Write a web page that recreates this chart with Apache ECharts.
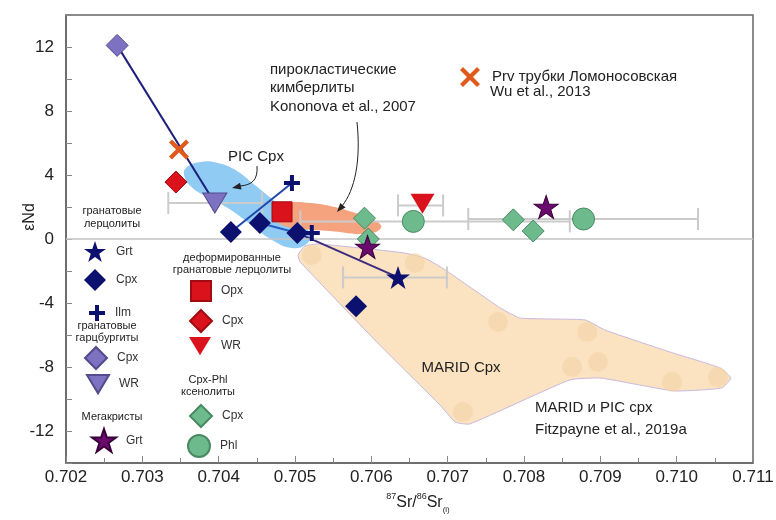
<!DOCTYPE html>
<html>
<head>
<meta charset="utf-8">
<title>Sr-Nd</title>
<script src="https://cdn.jsdelivr.net/npm/echarts@6/dist/echarts.min.js"></script>
<style>
  html, body { margin: 0; padding: 0; background: #fff; }
  #chart { width: 776px; height: 520px; }
</style>
</head>
<body>
<div id="chart"></div>
<script>
// axis ranges
var xMin = 0.702, xMax = 0.711, xStep = 0.001;
var yMin = -14, yMax = 14, yStep = 2;
var bulkSr = 0.7045;

// garnet lherzolites
var lhzGrt = [[0.70635, -2.4]];
var lhzCpx = [[0.70416, 0.44], [0.70454, 1.0], [0.70503, 0.38], [0.70580, -4.2]];
var lhzIlm = [[0.70496, 3.5], [0.70522, 0.38]];
// garnet harzburgites
var hzbCpx = [[0.70267, 12.1]];
var hzbWR = [[0.70395, 2.25]];
// megacrysts
var megaGrt = [[0.70829, 2.0], [0.70595, -0.5]];
// deformed garnet lherzolites
var defOpx = [[0.70483, 1.7]];
var defCpx = [[0.70344, 3.56]];
var defWR = [[0.70667, 2.2]];
// Cpx-Phl xenoliths
var cpCpx = [[0.70591, 1.3], [0.70596, 0.0], [0.70786, 1.2], [0.70812, 0.5]];
var cpPhl = [[0.70655, 1.1], [0.70878, 1.25]];
// perovskite, Lomonosovskaya pipe
var prv = [[0.70348, 5.6]];

// horizontal error bars: [eNd, Sr low, Sr high]
var errBars = [[2.25, 0.70334, 0.70457], [1.1, 0.70507, 0.70860], [2.1, 0.70635, 0.70694],
               [1.25, 0.70727, 0.71028], [-2.4, 0.70563, 0.70699]];

// tie lines between phases of one sample
var tieHzb = [[0.70267, 12.1], [0.70395, 2.25]];
var tieA = [[0.70416, 0.44], [0.70496, 3.5]];
var tieB = [[0.70454, 1.0], [0.70503, 0.38]];
var tieC = [[0.70503, 0.38], [0.70635, -2.4]];

// fields
var fieldPic = [[0.70357, 4.44], [0.70376, 4.81], [0.70399, 4.75], [0.70422, 4.31], [0.70444, 3.5],
  [0.70465, 2.69], [0.70484, 1.94], [0.70504, 1.06], [0.7052, 0.31], [0.70515, -0.31], [0.70496, -0.56],
  [0.7047, -0.06], [0.70441, 0.94], [0.70412, 1.94], [0.70382, 2.69], [0.70363, 3.31], [0.70355, 3.94]];
var fieldKim = [[0.70475, 1.81], [0.70487, 2.25], [0.7052, 2.25], [0.70552, 2.0], [0.70579, 1.63],
  [0.70601, 1.25], [0.70613, 0.81], [0.70606, 0.44], [0.70585, 0.31], [0.70546, 0.5], [0.70507, 0.63],
  [0.7048, 0.94], [0.70473, 1.44]];
var fieldMarid = [[0.70504, -1.0], [0.70513, -0.44], [0.7053, -0.31], [0.70611, -0.69], [0.70644, -0.88],
  [0.7067, -1.19], [0.70697, -1.94], [0.70769, -4.31], [0.70795, -4.94], [0.7088, -5.06], [0.70906, -5.69],
  [0.70991, -7.06], [0.71057, -8.06], [0.71071, -8.69], [0.71059, -9.31], [0.70998, -9.5], [0.70952, -9.13],
  [0.709, -8.69], [0.7086, -8.81], [0.70729, -11.56], [0.7071, -11.44], [0.7069, -10.38], [0.70611, -6.63],
  [0.70507, -1.44]];
var maridPts = [[0.70522, -1.0], [0.70657, -1.5], [0.70766, -5.19], [0.70883, -5.81], [0.70863, -8.0],
  [0.70897, -7.69], [0.70994, -8.94], [0.71054, -8.63], [0.7072, -10.81]];

var FONT = 'Arial, "Liberation Sans", sans-serif';
var STAR = 'path://M12,0 L14.9,8.6 L24,8.6 L16.6,14 L19.4,22.8 L12,17.4 L4.6,22.8 L7.4,14 L0,8.6 L9.1,8.6 Z';
var TRI_DOWN = 'path://M0,0 L12,0 L6,10 Z';
var PLUS = 'path://M3,0 H5 V3 H8 V5 H5 V8 H3 V5 H0 V3 H3 Z';
var CROSS = 'path://M0,1.5 L1.5,0 L5,3.5 L8.5,0 L10,1.5 L6.5,5 L10,8.5 L8.5,10 L5,6.5 L1.5,10 L0,8.5 L3.5,5 Z';

var chart = echarts.init(document.getElementById('chart'));

function field(pts, fill, stroke, smooth) {
  return {
    type: 'custom', silent: true, z: 1, data: pts,
    renderItem: function (params, api) {
      if (params.dataIndex !== 0) return null;
      var p = pts.map(function (d) { return api.coord(d); });
      return { type: 'polygon', shape: { points: p, smooth: smooth },
        style: { fill: fill, stroke: stroke, lineWidth: 1 } };
    }
  };
}

function tie(data, color) {
  return { type: 'line', data: data, symbol: 'none', silent: true, z: 3,
    lineStyle: { color: color, width: 2 } };
}

function pts(name, data, symbol, size, color, border) {
  return { name: name, type: 'scatter', data: data, symbol: symbol, symbolSize: size, z: 5,
    itemStyle: { color: color, borderColor: border || color, borderWidth: border ? 1 : 0, opacity: 1 } };
}

var navy = '#0c106e', harz = '#7d72c2', red = '#d9121b', green = '#6dbb8d', mega = '#6a0a6e';

// legend: [series, label, cx, cy, size]
var legendItems = [
  ['lhzGrt', 'Grt', 95, 252, 22], ['lhzCpx', 'Cpx', 95, 280, 22], ['lhzIlm', 'Ilm', 97, 313, 16],
  ['hzbCpx', 'Cpx', 95, 357, 22], ['hzbWR', 'WR', 97, 385, 22], ['megaGrt', 'Grt', 103, 440, 24],
  ['defOpx', 'Opx', 200, 290, 20], ['defCpx', 'Cpx', 200, 320, 22], ['defWR', 'WR', 200, 348, 22],
  ['cpCpx', 'Cpx', 200, 415, 22], ['cpPhl', 'Phl', 198, 445, 22]
];
var legends = legendItems.map(function (it) {
  return { data: [it[0]], left: it[2] - it[4] / 2, top: it[3] - it[4] / 2, itemWidth: it[4], itemHeight: it[4],
    padding: 0, selectedMode: false, formatter: function () { return it[1]; },
    textStyle: { fontSize: 12, color: '#333', fontFamily: FONT, padding: [0, 0, 0, 5] } };
});
legends.push({ data: ['prv'], left: 460, top: 67, itemWidth: 20, itemHeight: 20, padding: 0, selectedMode: false,
  formatter: function () { return 'Prv трубки Ломоносовская'; },
  textStyle: { fontSize: 15, color: '#222', fontFamily: FONT, padding: [0, 0, 0, 7] } });

function txt(x, y, s, size, align, lh) {
  return { type: 'text', x: x, y: y, silent: true, z: 10,
    style: { text: s, font: size + 'px ' + FONT, fill: '#222', textAlign: align || 'left',
      textVerticalAlign: 'middle', lineHeight: lh || size + 2 } };
}
function arrowHead(tip, from) {
  var dx = tip[0] - from[0], dy = tip[1] - from[1], l = Math.sqrt(dx * dx + dy * dy);
  dx /= l; dy /= l;
  var bx = tip[0] - dx * 9, by = tip[1] - dy * 9;
  return { type: 'polygon', silent: true, z: 10,
    shape: { points: [tip, [bx - dy * 3.5, by + dx * 3.5], [bx + dy * 3.5, by - dx * 3.5]] },
    style: { fill: '#222' } };
}

var option = {
  animation: false,
  backgroundColor: '#fff',
  grid: { left: 66, right: 23, top: 15, bottom: 57, show: true, borderColor: '#666', borderWidth: 1.5,
    backgroundColor: 'transparent', outerBoundsMode: 'none' },
  xAxis: {
    type: 'value', min: xMin, max: xMax, interval: xStep,
    axisLine: { show: true, onZero: false, lineStyle: { color: '#666', width: 1.5 } },
    axisTick: { show: true, inside: true, length: 7, lineStyle: { color: '#888' } },
    minorTick: { show: true, splitNumber: 2, length: 5, lineStyle: { color: '#888' } },
    splitLine: { show: false },
    axisLabel: { fontSize: 17, color: '#222', fontFamily: FONT, margin: 6, showMinLabel: true, showMaxLabel: true,
      formatter: function (v) { return v.toFixed(3); } }
  },
  yAxis: {
    type: 'value', min: yMin, max: yMax, interval: yStep,
    axisLine: { show: true, onZero: false, lineStyle: { color: '#666', width: 1.5 } },
    axisTick: { show: true, inside: true, length: 6, lineStyle: { color: '#888' } },
    splitLine: { show: false },
    axisLabel: { fontSize: 17, color: '#222', fontFamily: FONT, margin: 12,
      formatter: function (v) { return Math.round(v) % 4 === 0 ? String(Math.round(v)) : ''; } }
  },
  legend: legends,
  series: [
    field(fieldMarid, '#fbe2c0', '#c9b9e0', 0.15),
    { type: 'scatter', data: maridPts, symbol: 'circle', symbolSize: 20, silent: true, z: 1,
      itemStyle: { color: '#f5d3a6', opacity: 0.6 } },
    field(fieldPic, '#8fcbf2', 'none', 0.45),
    field(fieldKim, '#f5a27e', 'none', 0.4),
    { type: 'line', data: [], silent: true, z: 2,
      markLine: { silent: true, symbol: ['none', 'none'], label: { show: false }, animation: false,
        lineStyle: { color: '#c4c4c4', width: 1.5, type: 'solid' },
        data: [{ xAxis: bulkSr }, { yAxis: 0 }] } },
    { type: 'custom', silent: true, z: 2, data: errBars, encode: { x: [1, 2], y: 0 },
      renderItem: function (params, api) {
        var y = api.value(0), a = api.coord([api.value(1), y]), b = api.coord([api.value(2), y]);
        var c = 11, st = { stroke: '#cbcbcb', lineWidth: 2 };
        return { type: 'group', children: [
          { type: 'line', shape: { x1: a[0], y1: a[1], x2: b[0], y2: b[1] }, style: st },
          { type: 'line', shape: { x1: a[0], y1: a[1] - c, x2: a[0], y2: a[1] + c }, style: st },
          { type: 'line', shape: { x1: b[0], y1: b[1] - c, x2: b[0], y2: b[1] + c }, style: st }
        ] };
      } },
    tie(tieHzb, '#1c1f7c'),
    tie(tieA, '#2347ab'),
    tie(tieB, '#2a5cc4'),
    tie(tieC, '#3d2c7e'),
    pts('cpPhl', cpPhl, 'circle', 22, green, '#4a8a63'),
    pts('cpCpx', cpCpx, 'diamond', 22, green, '#4a8a63'),
    pts('defWR', defWR, TRI_DOWN, [24, 20], red),
    pts('defOpx', defOpx, 'rect', 20, red, '#a00c12'),
    pts('defCpx', defCpx, 'diamond', 22, red, '#a00c12'),
    pts('hzbWR', hzbWR, TRI_DOWN, [24, 20], harz, '#544a8c'),
    pts('hzbCpx', hzbCpx, 'diamond', 22, harz, '#544a8c'),
    pts('lhzCpx', lhzCpx, 'diamond', 22, navy),
    pts('lhzIlm', lhzIlm, PLUS, 16, navy),
    pts('lhzGrt', lhzGrt, STAR, [24, 23], navy),
    pts('megaGrt', megaGrt, STAR, [24, 23], mega, '#3a003a'),
    pts('prv', prv, CROSS, 20, '#df5a1b')
  ],
  graphic: [
    txt(112, 217, 'гранатовые\nлерцолиты', 11, 'center', 13),
    txt(107, 332, 'гранатовые\nгарцбургиты', 11, 'center', 12),
    txt(112, 417, 'Мегакристы', 11, 'center'),
    txt(232, 264, 'деформированные\nгранатовые лерцолиты', 11, 'center', 12),
    txt(208, 386, 'Cpx-Phl\nксенолиты', 11, 'center', 12),
    txt(256, 157, 'PIC Cpx', 15, 'center'),
    txt(270, 88, 'пирокластические\nкимберлиты\nKononova et al., 2007', 15, 'left', 18.5),
    txt(490, 92, 'Wu et al., 2013', 15, 'left'),
    txt(461, 368, 'MARID Cpx', 15, 'center'),
    txt(535, 419, 'MARID и PIC cpx\nFitzpayne et al., 2019a', 15, 'left', 22),
    { type: 'bezierCurve', silent: true, z: 10,
      shape: { x1: 257, y1: 166, cpx1: 258, cpy1: 180, cpx2: 252, cpy2: 185, x2: 240, y2: 186 },
      style: { stroke: '#222', lineWidth: 1, fill: null } },
    arrowHead([232, 188], [241, 186]),
    { type: 'bezierCurve', silent: true, z: 10,
      shape: { x1: 357, y1: 122, cpx1: 361, cpy1: 160, cpx2: 355, cpy2: 190, x2: 342, y2: 206 },
      style: { stroke: '#222', lineWidth: 1, fill: null } },
    arrowHead([337, 212], [344, 204]),
    { type: 'text', x: 30, y: 217, rotation: Math.PI / 2, silent: true,
      style: { text: 'εNd', font: '16px ' + FONT, fill: '#222', textAlign: 'center', textVerticalAlign: 'middle' } },
    { type: 'text', x: 418, y: 503, silent: true,
      style: { text: '{s|87}{n|Sr/}{s|86}{n|Sr}{b|(i)}', fill: '#222', textAlign: 'center', textVerticalAlign: 'middle',
        rich: {
          n: { fontSize: 16, fontFamily: FONT, lineHeight: 22, verticalAlign: 'middle' },
          s: { fontSize: 9, fontFamily: FONT, lineHeight: 22, verticalAlign: 'top' },
          b: { fontSize: 8, fontFamily: FONT, lineHeight: 22, verticalAlign: 'bottom' }
        } } }
  ]
};
chart.setOption(option);
</script>
</body>
</html>
